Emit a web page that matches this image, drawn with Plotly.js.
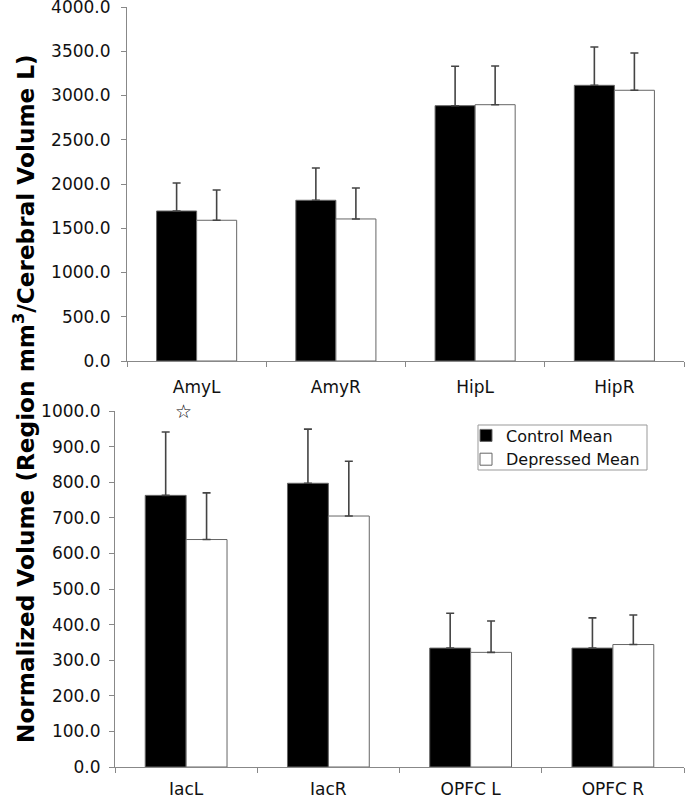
<!DOCTYPE html>
<html>
<head>
<meta charset="utf-8">
<script src="https://cdn.plot.ly/plotly-3.0.1.min.js"></script>
<style>html,body{margin:0;padding:0;background:#fff;}#chart{width:685px;height:798px;}</style>
</head>
<body>
<div id="chart"></div>
<script>
// ---- Data ----
var categoriesTop = ['AmyL', 'AmyR', 'HipL', 'HipR'];
var controlTop = [1695, 1816, 2885, 3115];
var controlTopErr = [316, 365, 445, 433];
var depressedTop = [1590, 1605, 2896, 3059];
var depressedTopErr = [342, 350, 437, 421];

var categoriesBottom = ['IacL', 'IacR', 'OPFC L', 'OPFC R'];
var controlBottom = [763, 797, 334, 334];
var controlBottomErr = [178, 152, 98, 85];
var depressedBottom = [639, 705, 322, 344];
var depressedBottomErr = [131, 154, 88, 83];

var seriesNames = ['Control Mean', 'Depressed Mean'];
var yTitle = 'Normalized Volume (Region mm<sup>3</sup>/Cerebral Volume L)';
var starLabel = '\u2606';

// ---- Styling ----
var FONT = 'DejaVu Sans';
var edge = '#666';
var errColor = '#444';
function zeros(a){ return a.map(function(){ return 0; }); }

function barTrace(name, cats, vals, errs, fill, xa, ya, show){
  return {
    type: 'bar', name: name, x: cats, y: vals, xaxis: xa, yaxis: ya,
    showlegend: show,
    marker: {color: fill, line: {color: edge, width: 1}},
    error_y: {type: 'data', symmetric: false, array: errs, arrayminus: zeros(errs),
              color: errColor, thickness: 1.6, width: 4}
  };
}

var data = [
  barTrace(seriesNames[0], categoriesTop, controlTop, controlTopErr, '#000', 'x', 'y', false),
  barTrace(seriesNames[1], categoriesTop, depressedTop, depressedTopErr, '#fff', 'x', 'y', false),
  barTrace(seriesNames[0], categoriesBottom, controlBottom, controlBottomErr, '#000', 'x2', 'y2', true),
  barTrace(seriesNames[1], categoriesBottom, depressedBottom, depressedBottomErr, '#fff', 'x2', 'y2', true)
];

var W = 685, H = 798;
function px(x){ return x / W; }
function py(y){ return 1 - y / H; }

function xAxis(extra){
  var a = {
    type: 'category', showline: true, linecolor: '#888', linewidth: 1,
    ticks: 'outside', tickson: 'boundaries', ticklen: 5, tickcolor: '#888',
    showgrid: false, zeroline: false, fixedrange: true,
    tickfont: {family: FONT, size: 17, color: '#111'}, ticklabelstandoff: 8,
    automargin: false, ticklabeloverflow: 'allow'
  };
  return Object.assign(a, extra);
}
function yAxis(extra){
  var a = {
    showline: true, linecolor: '#888', linewidth: 1,
    ticks: 'outside', ticklen: 5, tickcolor: '#888',
    showgrid: false, zeroline: false, fixedrange: true,
    tickmode: 'linear', tick0: 0,
    tickformat: '.1f', tickfont: {family: FONT, size: 17, color: '#111'},
    ticklabelstandoff: 8, automargin: false, ticklabeloverflow: 'allow'
  };
  return Object.assign(a, extra);
}

var layout = {
  width: W, height: H,
  margin: {l: 0, r: 0, t: 0, b: 0},
  paper_bgcolor: '#fff', plot_bgcolor: '#fff',
  barmode: 'group', bargap: 0.425, bargroupgap: 0,
  font: {family: FONT, size: 16, color: '#111'},
  xaxis: xAxis({domain: [px(127), px(684)], anchor: 'y', ticklabelstandoff: 11}),
  yaxis: yAxis({domain: [py(361), py(7)], range: [0, 4000], dtick: 500, anchor: 'x', ticklabelstandoff: 7}),
  xaxis2: xAxis({domain: [px(115), px(684)], anchor: 'y2', ticklabelstandoff: 7}),
  yaxis2: yAxis({domain: [py(767), py(411)], range: [0, 1000], dtick: 100, anchor: 'x2', ticklabelstandoff: 5}),
  showlegend: true,
  legend: {
    x: px(466), y: py(418.5), xanchor: 'left', yanchor: 'top',
    bgcolor: 'rgba(0,0,0,0)', borderwidth: 0,
    font: {family: FONT, size: 16, color: '#111'}, traceorder: 'normal',
    itemwidth: 30
  },
  shapes: [
    {type: 'rect', xref: 'paper', yref: 'paper', layer: 'above',
     x0: px(478), x1: px(647), y0: py(470), y1: py(425),
     line: {color: '#999', width: 1}, fillcolor: 'rgba(0,0,0,0)'}
  ],
  annotations: [
    {text: yTitle, xref: 'paper', yref: 'paper', x: px(24), y: py(399),
     xanchor: 'center', yanchor: 'middle', textangle: -90, showarrow: false,
     font: {family: FONT, size: 23.2, color: '#000', weight: 'bold'}},
    {text: starLabel, xref: 'x2', yref: 'y2', x: categoriesBottom[0], y: 1000,
     xshift: -3, xanchor: 'center', yanchor: 'middle', showarrow: false,
     font: {family: FONT, size: 19, color: '#000'}}
  ]
};

Plotly.newPlot('chart', data, layout, {displayModeBar: false, staticPlot: true});
</script>
</body>
</html>
